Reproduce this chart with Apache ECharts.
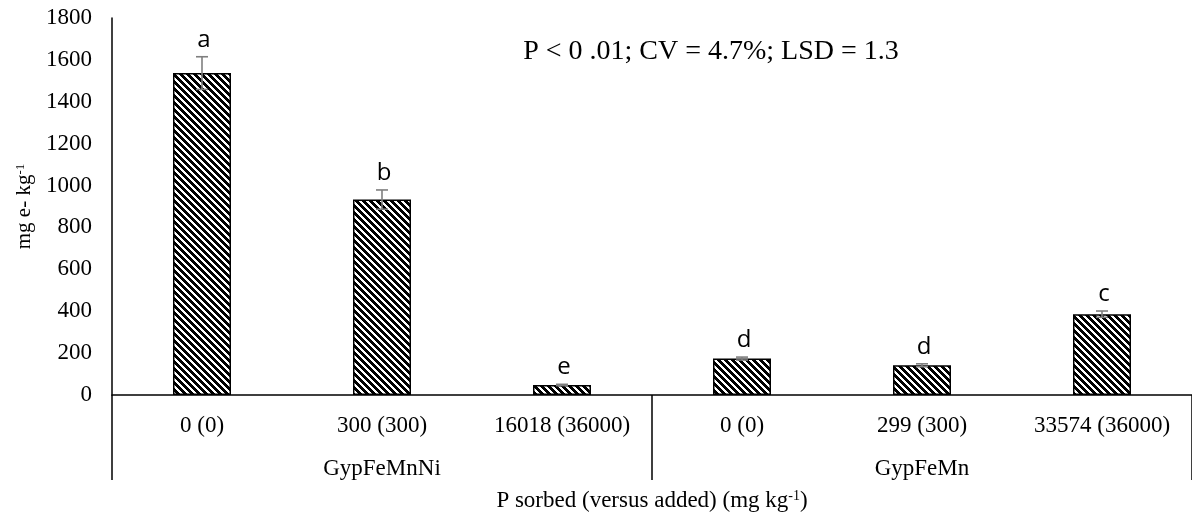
<!DOCTYPE html>
<html>
<head>
<meta charset="utf-8">
<script src="https://cdn.jsdelivr.net/npm/echarts@6/dist/echarts.min.js"></script>
<style>
  html, body { margin: 0; padding: 0; background: #fff; }
  #chart { width: 1192px; height: 520px; }
</style>
</head>
<body>
<div id="chart"></div>
<script>
// Treatment labels: P sorbed (added), mg/kg
const categories = ['0 (0)', '300 (300)', '16018 (36000)', '0 (0)', '299 (300)', '33574 (36000)'];
// Amendment groups, three treatments each
const groups = ['GypFeMnNi', 'GypFeMn'];
// Mean values (mg e- kg-1) and their error bars
const values = [1537, 933, 48, 174, 142, 386];
const errors = [78, 46, 3, 7, 7, 15];
// Mean separation letters
const letters = ['a', 'b', 'e', 'd', 'd', 'c'];
// Value axis range
const yMin = 0, yMax = 1800, yStep = 200;
const statsNote = 'P < 0 .01; CV = 4.7%; LSD = 1.3';

const SERIF = '"Liberation Serif", "Times New Roman", serif';
const SANS = '"Open Sans", "Liberation Sans", sans-serif';

// Black/white downward-diagonal hatch tile
function hatchTile(period, dark) {
  const c = document.createElement('canvas');
  c.width = period; c.height = period;
  const ctx = c.getContext('2d');
  const img = ctx.createImageData(period, period);
  for (let y = 0; y < period; y++) {
    for (let x = 0; x < period; x++) {
      const k = ((x - y) % period + period) % period;
      const v = k < dark ? 0 : 255;
      const p = (y * period + x) * 4;
      img.data[p] = v; img.data[p + 1] = v; img.data[p + 2] = v; img.data[p + 3] = 255;
    }
  }
  ctx.putImageData(img, 0, 0);
  return c;
}

const chart = echarts.init(document.getElementById('chart'));

chart.setOption({
  animation: false,
  backgroundColor: '#ffffff',
  grid: { left: 112, right: -4, top: 18, bottom: 125, containLabel: false },
  xAxis: [
    {
      type: 'category',
      data: categories,
      position: 'bottom',
      axisLine: { show: true, lineStyle: { color: '#000', width: 1.5 } },
      axisTick: { show: false },
      axisLabel: { interval: 0, margin: 19, color: '#000', fontFamily: SERIF, fontSize: 23 }
    },
    {
      type: 'category',
      data: groups,
      position: 'bottom',
      offset: 85,
      axisLine: { show: false },
      axisTick: { show: true, inside: true, length: 85, interval: 0, lineStyle: { color: '#000', width: 1.5 } },
      axisLabel: { interval: 0, inside: true, margin: 0, color: '#000', fontFamily: SERIF, fontSize: 23 },
      name: 'P sorbed (versus added) (mg kg{sup|-1})',
      nameLocation: 'middle',
      nameGap: 9,
      nameTextStyle: {
        color: '#000', fontFamily: SERIF, fontSize: 23,
        rich: { sup: { fontFamily: SERIF, fontSize: 14, color: '#000', padding: [0, 0, 10, 0] } }
      }
    }
  ],
  yAxis: {
    type: 'value',
    min: yMin, max: yMax, interval: yStep,
    axisLine: { show: true, lineStyle: { color: '#000', width: 1.5 } },
    axisTick: { show: false },
    splitLine: { show: false },
    axisLabel: {
      margin: 20, color: '#000', fontFamily: SERIF, fontSize: 23,
      formatter: (v) => String(v)
    },
    name: 'mg e- kg{sup|-1}',
    nameLocation: 'middle',
    nameGap: 74,
    nameTextStyle: {
      color: '#000', fontFamily: SERIF, fontSize: 21,
      rich: { sup: { fontFamily: SERIF, fontSize: 13, color: '#000', padding: [0, 0, 9, 0] } }
    }
  },
  series: [
    {
      type: 'bar',
      xAxisIndex: 0,
      data: values,
      barWidth: 58,
      itemStyle: {
        color: { image: hatchTile(7, 4), repeat: 'repeat' },
        borderColor: '#000',
        borderWidth: 1.5
      },
      z: 2
    },
    {
      // Error bars with caps, and the separation letter above each one
      type: 'custom',
      xAxisIndex: 0,
      data: values.map((v, i) => [i, v, errors[i]]),
      z: 5,
      renderItem: function (params, api) {
        const i = api.value(0), v = api.value(1), e = api.value(2);
        const top = api.coord([i, v + e]);
        const bot = api.coord([i, v - e]);
        const cap = 6;
        const ls = { stroke: '#7f7f7f', lineWidth: 1.6 };
        return {
          type: 'group',
          children: [
            { type: 'line', shape: { x1: top[0], y1: top[1], x2: bot[0], y2: bot[1] }, style: ls },
            { type: 'line', shape: { x1: top[0] - cap, y1: top[1], x2: top[0] + cap, y2: top[1] }, style: ls },
            { type: 'line', shape: { x1: bot[0] - cap, y1: bot[1], x2: bot[0] + cap, y2: bot[1] }, style: ls },
            {
              type: 'text',
              x: top[0] + 2, y: top[1] - 17,
              style: {
                text: letters[params.dataIndex],
                fill: '#000', fontFamily: SANS, fontSize: 24,
                align: 'center', verticalAlign: 'middle'
              }
            }
          ]
        };
      }
    }
  ],
  graphic: [
    {
      type: 'text',
      x: 711, y: 52,
      style: {
        text: statsNote,
        fill: '#000', fontFamily: SERIF, fontSize: 28,
        align: 'center', verticalAlign: 'middle'
      }
    }
  ]
});
</script>
</body>
</html>
